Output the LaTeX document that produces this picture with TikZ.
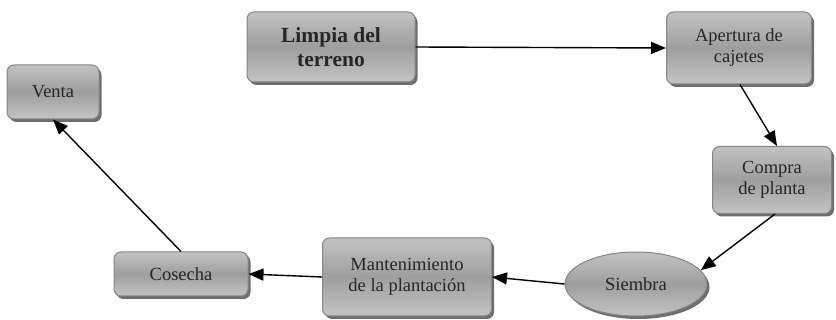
\documentclass[tikz,border=0pt]{standalone}
\usepackage{fontspec}
\setmainfont{Liberation Serif}
\usetikzlibrary{arrows.meta,shapes.geometric,shadows}
\definecolor{topc}{HTML}{C2C2C2}
\definecolor{midc}{HTML}{9E9E9E}
\definecolor{botc}{HTML}{C4C4C4}
\definecolor{edgec}{HTML}{858585}
\definecolor{shc}{HTML}{6E6E6E}
\tikzset{
  box/.style={draw=edgec, line width=1pt, rounded corners=7pt,
    top color=topc, bottom color=botc, middle color=midc,
    drop shadow={shadow xshift=2.5pt, shadow yshift=-3pt, fill=shc, opacity=1},
    align=center, font=\fontsize{18.5}{21}\selectfont, text=black!85, inner sep=0pt},
  oval/.style={box, ellipse, rounded corners=0pt},
  conn/.style={line width=1.4pt, -{Triangle[length=15pt,width=12pt]}},
}
\begin{document}
\begin{tikzpicture}[x=1pt,y=1pt]
\useasboundingbox (0,0) rectangle (836,-320);
\node[box, minimum width=168pt, minimum height=70pt, font=\fontsize{21.5}{24}\selectfont\bfseries] (L) at (331,-47) {Limpia del\\terreno};
\node[box, minimum width=145pt, minimum height=72pt] (A) at (739,-48) {Apertura de\\cajetes};
\node[box, minimum width=119pt, minimum height=67pt] (C) at (772,-180) {Compra\\de planta};
\node[oval, minimum width=142pt, minimum height=64pt] (S) at (636,-284) {Siembra};
\node[box, minimum width=169pt, minimum height=78pt] (M) at (407,-277) {Mantenimiento\\de la plantación};
\node[box, minimum width=134pt, minimum height=44pt] (Co) at (181,-274) {Cosecha};
\node[box, minimum width=92pt, minimum height=54pt] (V) at (53,-92) {Venta};
\draw[conn] (L.east) -- (A.west);
\draw[conn] ([xshift=1pt]A.south) -- ([xshift=5pt]C.north);
\draw[conn] ([xshift=3pt]C.south) -- (S.12);
\draw[conn] (S.west) -- (M.east);
\draw[conn] (M.west) -- (Co.east);
\draw[conn] (Co.north) -- (V.south);
\end{tikzpicture}
\end{document}
